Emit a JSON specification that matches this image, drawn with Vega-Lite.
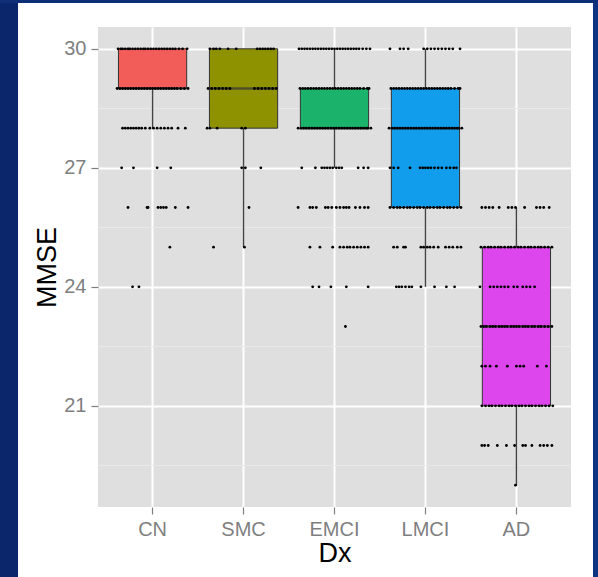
{
  "$schema": "https://vega.github.io/schema/vega-lite/v6.json",
  "background": "#FFFFFF",
  "padding": 0,
  "spacing": 0,
  "config": {
    "view": {"stroke": null},
    "font": "Liberation Sans",
    "axis": {
      "labelFont": "Liberation Sans",
      "titleFont": "Liberation Sans",
      "labelFontSize": 20,
      "labelColor": "#7F7F7F",
      "titleFontSize": 27,
      "titleFontWeight": "normal",
      "titleColor": "#000000",
      "tickColor": "#7F7F7F",
      "tickWidth": 1.2,
      "domain": false,
      "gridColor": "#FFFFFF",
      "gridWidth": 2,
      "gridOpacity": 1
    }
  },
  "datasets": {
    "box": [
      {"dx": "CN", "lower": 28, "q1": 29, "median": 29, "q3": 30, "upper": 30},
      {"dx": "SMC", "lower": 25, "q1": 28, "median": 29, "q3": 30, "upper": 30},
      {"dx": "EMCI", "lower": 27, "q1": 28, "median": 28, "q3": 29, "upper": 30},
      {"dx": "LMCI", "lower": 24, "q1": 26, "median": 28, "q3": 29, "upper": 30},
      {"dx": "AD", "lower": 19, "q1": 21, "median": 23, "q3": 25, "upper": 26}
    ],
    "pts": [
      {"dx":"CN","mmse":30,"j":-0.38},{"dx":"CN","mmse":30,"j":-0.35},{"dx":"CN","mmse":30,"j":-0.33},{"dx":"CN","mmse":30,"j":-0.30},{"dx":"CN","mmse":30,"j":-0.27},{"dx":"CN","mmse":30,"j":-0.25},{"dx":"CN","mmse":30,"j":-0.22},{"dx":"CN","mmse":30,"j":-0.19},{"dx":"CN","mmse":30,"j":-0.16},{"dx":"CN","mmse":30,"j":-0.13},{"dx":"CN","mmse":30,"j":-0.10},{"dx":"CN","mmse":30,"j":-0.08},{"dx":"CN","mmse":30,"j":-0.05},{"dx":"CN","mmse":30,"j":-0.02},{"dx":"CN","mmse":30,"j":0.01},{"dx":"CN","mmse":30,"j":0.04},{"dx":"CN","mmse":30,"j":0.07},{"dx":"CN","mmse":30,"j":0.10},{"dx":"CN","mmse":30,"j":0.13},{"dx":"CN","mmse":30,"j":0.16},{"dx":"CN","mmse":30,"j":0.19},{"dx":"CN","mmse":30,"j":0.22},{"dx":"CN","mmse":30,"j":0.25},{"dx":"CN","mmse":30,"j":0.29},{"dx":"CN","mmse":30,"j":0.33},{"dx":"CN","mmse":30,"j":0.38},
      {"dx":"CN","mmse":29,"j":-0.39},{"dx":"CN","mmse":29,"j":-0.36},{"dx":"CN","mmse":29,"j":-0.33},{"dx":"CN","mmse":29,"j":-0.30},{"dx":"CN","mmse":29,"j":-0.27},{"dx":"CN","mmse":29,"j":-0.24},{"dx":"CN","mmse":29,"j":-0.21},{"dx":"CN","mmse":29,"j":-0.18},{"dx":"CN","mmse":29,"j":-0.15},{"dx":"CN","mmse":29,"j":-0.12},{"dx":"CN","mmse":29,"j":-0.09},{"dx":"CN","mmse":29,"j":-0.06},{"dx":"CN","mmse":29,"j":-0.03},{"dx":"CN","mmse":29,"j":0.00},{"dx":"CN","mmse":29,"j":0.03},{"dx":"CN","mmse":29,"j":0.06},{"dx":"CN","mmse":29,"j":0.09},{"dx":"CN","mmse":29,"j":0.12},{"dx":"CN","mmse":29,"j":0.15},{"dx":"CN","mmse":29,"j":0.18},{"dx":"CN","mmse":29,"j":0.21},{"dx":"CN","mmse":29,"j":0.24},{"dx":"CN","mmse":29,"j":0.27},{"dx":"CN","mmse":29,"j":0.31},{"dx":"CN","mmse":29,"j":0.35},{"dx":"CN","mmse":29,"j":0.39},
      {"dx":"CN","mmse":28,"j":-0.33},{"dx":"CN","mmse":28,"j":-0.30},{"dx":"CN","mmse":28,"j":-0.27},{"dx":"CN","mmse":28,"j":-0.24},{"dx":"CN","mmse":28,"j":-0.21},{"dx":"CN","mmse":28,"j":-0.18},{"dx":"CN","mmse":28,"j":-0.15},{"dx":"CN","mmse":28,"j":-0.12},{"dx":"CN","mmse":28,"j":-0.08},{"dx":"CN","mmse":28,"j":-0.03},{"dx":"CN","mmse":28,"j":0.01},{"dx":"CN","mmse":28,"j":0.05},{"dx":"CN","mmse":28,"j":0.09},{"dx":"CN","mmse":28,"j":0.13},{"dx":"CN","mmse":28,"j":0.17},{"dx":"CN","mmse":28,"j":0.21},{"dx":"CN","mmse":28,"j":0.28},{"dx":"CN","mmse":28,"j":0.36},
      {"dx":"CN","mmse":27,"j":-0.34},{"dx":"CN","mmse":27,"j":-0.21},{"dx":"CN","mmse":27,"j":0.05},{"dx":"CN","mmse":27,"j":0.20},
      {"dx":"CN","mmse":26,"j":-0.27},{"dx":"CN","mmse":26,"j":-0.06},{"dx":"CN","mmse":26,"j":-0.05},{"dx":"CN","mmse":26,"j":0.06},{"dx":"CN","mmse":26,"j":0.09},{"dx":"CN","mmse":26,"j":0.12},{"dx":"CN","mmse":26,"j":0.15},{"dx":"CN","mmse":26,"j":0.25},{"dx":"CN","mmse":26,"j":0.39},
      {"dx":"CN","mmse":25,"j":0.19},
      {"dx":"CN","mmse":24,"j":-0.22},{"dx":"CN","mmse":24,"j":-0.15},
      {"dx":"SMC","mmse":30,"j":-0.37},{"dx":"SMC","mmse":30,"j":-0.33},{"dx":"SMC","mmse":30,"j":-0.30},{"dx":"SMC","mmse":30,"j":-0.26},{"dx":"SMC","mmse":30,"j":-0.17},{"dx":"SMC","mmse":30,"j":-0.08},{"dx":"SMC","mmse":30,"j":0.15},{"dx":"SMC","mmse":30,"j":0.18},{"dx":"SMC","mmse":30,"j":0.21},{"dx":"SMC","mmse":30,"j":0.24},{"dx":"SMC","mmse":30,"j":0.27},{"dx":"SMC","mmse":30,"j":0.30},{"dx":"SMC","mmse":30,"j":0.33},
      {"dx":"SMC","mmse":29,"j":-0.39},{"dx":"SMC","mmse":29,"j":-0.35},{"dx":"SMC","mmse":29,"j":-0.31},{"dx":"SMC","mmse":29,"j":-0.27},{"dx":"SMC","mmse":29,"j":-0.23},{"dx":"SMC","mmse":29,"j":-0.19},{"dx":"SMC","mmse":29,"j":-0.15},{"dx":"SMC","mmse":29,"j":0.12},{"dx":"SMC","mmse":29,"j":0.16},{"dx":"SMC","mmse":29,"j":0.20},{"dx":"SMC","mmse":29,"j":0.24},{"dx":"SMC","mmse":29,"j":0.28},{"dx":"SMC","mmse":29,"j":0.32},{"dx":"SMC","mmse":29,"j":0.36},
      {"dx":"SMC","mmse":28,"j":-0.40},{"dx":"SMC","mmse":28,"j":-0.37},{"dx":"SMC","mmse":28,"j":-0.29},{"dx":"SMC","mmse":28,"j":-0.02},{"dx":"SMC","mmse":28,"j":0.02},
      {"dx":"SMC","mmse":27,"j":-0.02},{"dx":"SMC","mmse":27,"j":0.02},{"dx":"SMC","mmse":27,"j":0.19},
      {"dx":"SMC","mmse":26,"j":0.06},
      {"dx":"SMC","mmse":25,"j":-0.33},{"dx":"SMC","mmse":25,"j":0.01},
      {"dx":"EMCI","mmse":30,"j":-0.39},{"dx":"EMCI","mmse":30,"j":-0.36},{"dx":"EMCI","mmse":30,"j":-0.33},{"dx":"EMCI","mmse":30,"j":-0.30},{"dx":"EMCI","mmse":30,"j":-0.27},{"dx":"EMCI","mmse":30,"j":-0.24},{"dx":"EMCI","mmse":30,"j":-0.21},{"dx":"EMCI","mmse":30,"j":-0.18},{"dx":"EMCI","mmse":30,"j":-0.15},{"dx":"EMCI","mmse":30,"j":-0.12},{"dx":"EMCI","mmse":30,"j":-0.09},{"dx":"EMCI","mmse":30,"j":-0.06},{"dx":"EMCI","mmse":30,"j":-0.03},{"dx":"EMCI","mmse":30,"j":0.00},{"dx":"EMCI","mmse":30,"j":0.03},{"dx":"EMCI","mmse":30,"j":0.06},{"dx":"EMCI","mmse":30,"j":0.09},{"dx":"EMCI","mmse":30,"j":0.12},{"dx":"EMCI","mmse":30,"j":0.15},{"dx":"EMCI","mmse":30,"j":0.18},{"dx":"EMCI","mmse":30,"j":0.21},{"dx":"EMCI","mmse":30,"j":0.24},{"dx":"EMCI","mmse":30,"j":0.27},{"dx":"EMCI","mmse":30,"j":0.31},{"dx":"EMCI","mmse":30,"j":0.35},{"dx":"EMCI","mmse":30,"j":0.39},
      {"dx":"EMCI","mmse":29,"j":-0.38},{"dx":"EMCI","mmse":29,"j":-0.35},{"dx":"EMCI","mmse":29,"j":-0.32},{"dx":"EMCI","mmse":29,"j":-0.29},{"dx":"EMCI","mmse":29,"j":-0.26},{"dx":"EMCI","mmse":29,"j":-0.23},{"dx":"EMCI","mmse":29,"j":-0.20},{"dx":"EMCI","mmse":29,"j":-0.17},{"dx":"EMCI","mmse":29,"j":-0.14},{"dx":"EMCI","mmse":29,"j":-0.11},{"dx":"EMCI","mmse":29,"j":-0.08},{"dx":"EMCI","mmse":29,"j":-0.05},{"dx":"EMCI","mmse":29,"j":-0.02},{"dx":"EMCI","mmse":29,"j":0.01},{"dx":"EMCI","mmse":29,"j":0.04},{"dx":"EMCI","mmse":29,"j":0.07},{"dx":"EMCI","mmse":29,"j":0.10},{"dx":"EMCI","mmse":29,"j":0.13},{"dx":"EMCI","mmse":29,"j":0.16},{"dx":"EMCI","mmse":29,"j":0.19},{"dx":"EMCI","mmse":29,"j":0.22},{"dx":"EMCI","mmse":29,"j":0.25},{"dx":"EMCI","mmse":29,"j":0.28},{"dx":"EMCI","mmse":29,"j":0.32},{"dx":"EMCI","mmse":29,"j":0.36},{"dx":"EMCI","mmse":29,"j":0.38},
      {"dx":"EMCI","mmse":28,"j":-0.40},{"dx":"EMCI","mmse":28,"j":-0.37},{"dx":"EMCI","mmse":28,"j":-0.34},{"dx":"EMCI","mmse":28,"j":-0.31},{"dx":"EMCI","mmse":28,"j":-0.28},{"dx":"EMCI","mmse":28,"j":-0.25},{"dx":"EMCI","mmse":28,"j":-0.22},{"dx":"EMCI","mmse":28,"j":-0.19},{"dx":"EMCI","mmse":28,"j":-0.16},{"dx":"EMCI","mmse":28,"j":-0.13},{"dx":"EMCI","mmse":28,"j":-0.10},{"dx":"EMCI","mmse":28,"j":-0.07},{"dx":"EMCI","mmse":28,"j":-0.04},{"dx":"EMCI","mmse":28,"j":-0.01},{"dx":"EMCI","mmse":28,"j":0.02},{"dx":"EMCI","mmse":28,"j":0.05},{"dx":"EMCI","mmse":28,"j":0.08},{"dx":"EMCI","mmse":28,"j":0.11},{"dx":"EMCI","mmse":28,"j":0.14},{"dx":"EMCI","mmse":28,"j":0.17},{"dx":"EMCI","mmse":28,"j":0.20},{"dx":"EMCI","mmse":28,"j":0.23},{"dx":"EMCI","mmse":28,"j":0.26},{"dx":"EMCI","mmse":28,"j":0.29},{"dx":"EMCI","mmse":28,"j":0.32},{"dx":"EMCI","mmse":28,"j":0.35},{"dx":"EMCI","mmse":28,"j":0.37},{"dx":"EMCI","mmse":28,"j":0.40},
      {"dx":"EMCI","mmse":27,"j":-0.36},{"dx":"EMCI","mmse":27,"j":-0.21},{"dx":"EMCI","mmse":27,"j":-0.14},{"dx":"EMCI","mmse":27,"j":-0.11},{"dx":"EMCI","mmse":27,"j":-0.08},{"dx":"EMCI","mmse":27,"j":-0.05},{"dx":"EMCI","mmse":27,"j":-0.02},{"dx":"EMCI","mmse":27,"j":0.02},{"dx":"EMCI","mmse":27,"j":0.05},{"dx":"EMCI","mmse":27,"j":0.08},{"dx":"EMCI","mmse":27,"j":0.26},{"dx":"EMCI","mmse":27,"j":0.32},{"dx":"EMCI","mmse":27,"j":0.37},
      {"dx":"EMCI","mmse":26,"j":-0.40},{"dx":"EMCI","mmse":26,"j":-0.27},{"dx":"EMCI","mmse":26,"j":-0.24},{"dx":"EMCI","mmse":26,"j":-0.20},{"dx":"EMCI","mmse":26,"j":-0.10},{"dx":"EMCI","mmse":26,"j":-0.07},{"dx":"EMCI","mmse":26,"j":-0.03},{"dx":"EMCI","mmse":26,"j":0.02},{"dx":"EMCI","mmse":26,"j":0.06},{"dx":"EMCI","mmse":26,"j":0.10},{"dx":"EMCI","mmse":26,"j":0.13},{"dx":"EMCI","mmse":26,"j":0.16},{"dx":"EMCI","mmse":26,"j":0.23},{"dx":"EMCI","mmse":26,"j":0.28},{"dx":"EMCI","mmse":26,"j":0.33},{"dx":"EMCI","mmse":26,"j":0.37},
      {"dx":"EMCI","mmse":25,"j":-0.27},{"dx":"EMCI","mmse":25,"j":-0.16},{"dx":"EMCI","mmse":25,"j":-0.02},{"dx":"EMCI","mmse":25,"j":0.06},{"dx":"EMCI","mmse":25,"j":0.10},{"dx":"EMCI","mmse":25,"j":0.14},{"dx":"EMCI","mmse":25,"j":0.17},{"dx":"EMCI","mmse":25,"j":0.21},{"dx":"EMCI","mmse":25,"j":0.25},{"dx":"EMCI","mmse":25,"j":0.29},{"dx":"EMCI","mmse":25,"j":0.33},{"dx":"EMCI","mmse":25,"j":0.37},
      {"dx":"EMCI","mmse":24,"j":-0.24},{"dx":"EMCI","mmse":24,"j":-0.17},{"dx":"EMCI","mmse":24,"j":-0.04},{"dx":"EMCI","mmse":24,"j":0.13},{"dx":"EMCI","mmse":24,"j":0.37},
      {"dx":"EMCI","mmse":23,"j":0.12},
      {"dx":"LMCI","mmse":30,"j":-0.39},{"dx":"LMCI","mmse":30,"j":-0.28},{"dx":"LMCI","mmse":30,"j":-0.24},{"dx":"LMCI","mmse":30,"j":-0.19},{"dx":"LMCI","mmse":30,"j":-0.02},{"dx":"LMCI","mmse":30,"j":0.02},{"dx":"LMCI","mmse":30,"j":0.06},{"dx":"LMCI","mmse":30,"j":0.10},{"dx":"LMCI","mmse":30,"j":0.14},{"dx":"LMCI","mmse":30,"j":0.18},{"dx":"LMCI","mmse":30,"j":0.22},{"dx":"LMCI","mmse":30,"j":0.26},{"dx":"LMCI","mmse":30,"j":0.30},{"dx":"LMCI","mmse":30,"j":0.38},
      {"dx":"LMCI","mmse":29,"j":-0.38},{"dx":"LMCI","mmse":29,"j":-0.35},{"dx":"LMCI","mmse":29,"j":-0.32},{"dx":"LMCI","mmse":29,"j":-0.29},{"dx":"LMCI","mmse":29,"j":-0.26},{"dx":"LMCI","mmse":29,"j":-0.23},{"dx":"LMCI","mmse":29,"j":-0.20},{"dx":"LMCI","mmse":29,"j":-0.17},{"dx":"LMCI","mmse":29,"j":-0.14},{"dx":"LMCI","mmse":29,"j":-0.11},{"dx":"LMCI","mmse":29,"j":-0.08},{"dx":"LMCI","mmse":29,"j":-0.05},{"dx":"LMCI","mmse":29,"j":-0.02},{"dx":"LMCI","mmse":29,"j":0.01},{"dx":"LMCI","mmse":29,"j":0.04},{"dx":"LMCI","mmse":29,"j":0.07},{"dx":"LMCI","mmse":29,"j":0.10},{"dx":"LMCI","mmse":29,"j":0.13},{"dx":"LMCI","mmse":29,"j":0.16},{"dx":"LMCI","mmse":29,"j":0.19},{"dx":"LMCI","mmse":29,"j":0.22},{"dx":"LMCI","mmse":29,"j":0.25},{"dx":"LMCI","mmse":29,"j":0.28},{"dx":"LMCI","mmse":29,"j":0.32},{"dx":"LMCI","mmse":29,"j":0.36},{"dx":"LMCI","mmse":29,"j":0.38},
      {"dx":"LMCI","mmse":28,"j":-0.40},{"dx":"LMCI","mmse":28,"j":-0.37},{"dx":"LMCI","mmse":28,"j":-0.34},{"dx":"LMCI","mmse":28,"j":-0.31},{"dx":"LMCI","mmse":28,"j":-0.28},{"dx":"LMCI","mmse":28,"j":-0.25},{"dx":"LMCI","mmse":28,"j":-0.22},{"dx":"LMCI","mmse":28,"j":-0.19},{"dx":"LMCI","mmse":28,"j":-0.16},{"dx":"LMCI","mmse":28,"j":-0.13},{"dx":"LMCI","mmse":28,"j":-0.10},{"dx":"LMCI","mmse":28,"j":-0.07},{"dx":"LMCI","mmse":28,"j":-0.04},{"dx":"LMCI","mmse":28,"j":-0.01},{"dx":"LMCI","mmse":28,"j":0.02},{"dx":"LMCI","mmse":28,"j":0.05},{"dx":"LMCI","mmse":28,"j":0.08},{"dx":"LMCI","mmse":28,"j":0.11},{"dx":"LMCI","mmse":28,"j":0.14},{"dx":"LMCI","mmse":28,"j":0.17},{"dx":"LMCI","mmse":28,"j":0.20},{"dx":"LMCI","mmse":28,"j":0.23},{"dx":"LMCI","mmse":28,"j":0.26},{"dx":"LMCI","mmse":28,"j":0.29},{"dx":"LMCI","mmse":28,"j":0.32},{"dx":"LMCI","mmse":28,"j":0.35},{"dx":"LMCI","mmse":28,"j":0.37},{"dx":"LMCI","mmse":28,"j":0.40},
      {"dx":"LMCI","mmse":27,"j":-0.39},{"dx":"LMCI","mmse":27,"j":-0.35},{"dx":"LMCI","mmse":27,"j":-0.30},{"dx":"LMCI","mmse":27,"j":-0.17},{"dx":"LMCI","mmse":27,"j":-0.06},{"dx":"LMCI","mmse":27,"j":-0.03},{"dx":"LMCI","mmse":27,"j":0.00},{"dx":"LMCI","mmse":27,"j":0.03},{"dx":"LMCI","mmse":27,"j":0.06},{"dx":"LMCI","mmse":27,"j":0.10},{"dx":"LMCI","mmse":27,"j":0.14},{"dx":"LMCI","mmse":27,"j":0.18},{"dx":"LMCI","mmse":27,"j":0.23},{"dx":"LMCI","mmse":27,"j":0.27},{"dx":"LMCI","mmse":27,"j":0.31},{"dx":"LMCI","mmse":27,"j":0.34},
      {"dx":"LMCI","mmse":26,"j":-0.39},{"dx":"LMCI","mmse":26,"j":-0.35},{"dx":"LMCI","mmse":26,"j":-0.31},{"dx":"LMCI","mmse":26,"j":-0.28},{"dx":"LMCI","mmse":26,"j":-0.24},{"dx":"LMCI","mmse":26,"j":-0.20},{"dx":"LMCI","mmse":26,"j":-0.17},{"dx":"LMCI","mmse":26,"j":-0.13},{"dx":"LMCI","mmse":26,"j":-0.09},{"dx":"LMCI","mmse":26,"j":-0.06},{"dx":"LMCI","mmse":26,"j":-0.02},{"dx":"LMCI","mmse":26,"j":0.02},{"dx":"LMCI","mmse":26,"j":0.05},{"dx":"LMCI","mmse":26,"j":0.09},{"dx":"LMCI","mmse":26,"j":0.13},{"dx":"LMCI","mmse":26,"j":0.16},{"dx":"LMCI","mmse":26,"j":0.20},{"dx":"LMCI","mmse":26,"j":0.24},{"dx":"LMCI","mmse":26,"j":0.27},{"dx":"LMCI","mmse":26,"j":0.31},{"dx":"LMCI","mmse":26,"j":0.35},{"dx":"LMCI","mmse":26,"j":0.39},
      {"dx":"LMCI","mmse":25,"j":-0.35},{"dx":"LMCI","mmse":25,"j":-0.31},{"dx":"LMCI","mmse":25,"j":-0.24},{"dx":"LMCI","mmse":25,"j":-0.22},{"dx":"LMCI","mmse":25,"j":-0.05},{"dx":"LMCI","mmse":25,"j":-0.02},{"dx":"LMCI","mmse":25,"j":0.02},{"dx":"LMCI","mmse":25,"j":0.05},{"dx":"LMCI","mmse":25,"j":0.09},{"dx":"LMCI","mmse":25,"j":0.14},{"dx":"LMCI","mmse":25,"j":0.22},{"dx":"LMCI","mmse":25,"j":0.26},{"dx":"LMCI","mmse":25,"j":0.30},{"dx":"LMCI","mmse":25,"j":0.35},{"dx":"LMCI","mmse":25,"j":0.39},
      {"dx":"LMCI","mmse":24,"j":-0.32},{"dx":"LMCI","mmse":24,"j":-0.29},{"dx":"LMCI","mmse":24,"j":-0.26},{"dx":"LMCI","mmse":24,"j":-0.22},{"dx":"LMCI","mmse":24,"j":-0.18},{"dx":"LMCI","mmse":24,"j":-0.15},{"dx":"LMCI","mmse":24,"j":-0.05},{"dx":"LMCI","mmse":24,"j":0.10},{"dx":"LMCI","mmse":24,"j":0.23},{"dx":"LMCI","mmse":24,"j":0.32},
      {"dx":"AD","mmse":26,"j":-0.38},{"dx":"AD","mmse":26,"j":-0.34},{"dx":"AD","mmse":26,"j":-0.30},{"dx":"AD","mmse":26,"j":-0.26},{"dx":"AD","mmse":26,"j":-0.19},{"dx":"AD","mmse":26,"j":-0.09},{"dx":"AD","mmse":26,"j":-0.05},{"dx":"AD","mmse":26,"j":-0.01},{"dx":"AD","mmse":26,"j":0.09},{"dx":"AD","mmse":26,"j":0.22},{"dx":"AD","mmse":26,"j":0.26},{"dx":"AD","mmse":26,"j":0.30},{"dx":"AD","mmse":26,"j":0.36},
      {"dx":"AD","mmse":25,"j":-0.39},{"dx":"AD","mmse":25,"j":-0.35},{"dx":"AD","mmse":25,"j":-0.31},{"dx":"AD","mmse":25,"j":-0.28},{"dx":"AD","mmse":25,"j":-0.24},{"dx":"AD","mmse":25,"j":-0.20},{"dx":"AD","mmse":25,"j":-0.17},{"dx":"AD","mmse":25,"j":-0.13},{"dx":"AD","mmse":25,"j":-0.09},{"dx":"AD","mmse":25,"j":-0.06},{"dx":"AD","mmse":25,"j":-0.02},{"dx":"AD","mmse":25,"j":0.02},{"dx":"AD","mmse":25,"j":0.05},{"dx":"AD","mmse":25,"j":0.09},{"dx":"AD","mmse":25,"j":0.13},{"dx":"AD","mmse":25,"j":0.16},{"dx":"AD","mmse":25,"j":0.20},{"dx":"AD","mmse":25,"j":0.24},{"dx":"AD","mmse":25,"j":0.27},{"dx":"AD","mmse":25,"j":0.31},{"dx":"AD","mmse":25,"j":0.35},{"dx":"AD","mmse":25,"j":0.39},
      {"dx":"AD","mmse":24,"j":-0.40},{"dx":"AD","mmse":24,"j":-0.29},{"dx":"AD","mmse":24,"j":-0.25},{"dx":"AD","mmse":24,"j":-0.21},{"dx":"AD","mmse":24,"j":-0.17},{"dx":"AD","mmse":24,"j":-0.13},{"dx":"AD","mmse":24,"j":-0.09},{"dx":"AD","mmse":24,"j":-0.03},{"dx":"AD","mmse":24,"j":0.01},{"dx":"AD","mmse":24,"j":0.07},{"dx":"AD","mmse":24,"j":0.11},{"dx":"AD","mmse":24,"j":0.15},{"dx":"AD","mmse":24,"j":0.20},
      {"dx":"AD","mmse":23,"j":-0.39},{"dx":"AD","mmse":23,"j":-0.36},{"dx":"AD","mmse":23,"j":-0.33},{"dx":"AD","mmse":23,"j":-0.29},{"dx":"AD","mmse":23,"j":-0.26},{"dx":"AD","mmse":23,"j":-0.23},{"dx":"AD","mmse":23,"j":-0.19},{"dx":"AD","mmse":23,"j":-0.16},{"dx":"AD","mmse":23,"j":-0.13},{"dx":"AD","mmse":23,"j":-0.10},{"dx":"AD","mmse":23,"j":-0.06},{"dx":"AD","mmse":23,"j":-0.03},{"dx":"AD","mmse":23,"j":0.00},{"dx":"AD","mmse":23,"j":0.03},{"dx":"AD","mmse":23,"j":0.07},{"dx":"AD","mmse":23,"j":0.10},{"dx":"AD","mmse":23,"j":0.13},{"dx":"AD","mmse":23,"j":0.17},{"dx":"AD","mmse":23,"j":0.20},{"dx":"AD","mmse":23,"j":0.24},{"dx":"AD","mmse":23,"j":0.27},{"dx":"AD","mmse":23,"j":0.31},{"dx":"AD","mmse":23,"j":0.35},{"dx":"AD","mmse":23,"j":0.39},
      {"dx":"AD","mmse":22,"j":-0.38},{"dx":"AD","mmse":22,"j":-0.34},{"dx":"AD","mmse":22,"j":-0.29},{"dx":"AD","mmse":22,"j":-0.22},{"dx":"AD","mmse":22,"j":-0.10},{"dx":"AD","mmse":22,"j":0.00},{"dx":"AD","mmse":22,"j":0.04},{"dx":"AD","mmse":22,"j":0.08},{"dx":"AD","mmse":22,"j":0.23},{"dx":"AD","mmse":22,"j":0.33},
      {"dx":"AD","mmse":21,"j":-0.38},{"dx":"AD","mmse":21,"j":-0.34},{"dx":"AD","mmse":21,"j":-0.30},{"dx":"AD","mmse":21,"j":-0.27},{"dx":"AD","mmse":21,"j":-0.23},{"dx":"AD","mmse":21,"j":-0.19},{"dx":"AD","mmse":21,"j":-0.16},{"dx":"AD","mmse":21,"j":-0.12},{"dx":"AD","mmse":21,"j":-0.08},{"dx":"AD","mmse":21,"j":-0.05},{"dx":"AD","mmse":21,"j":-0.01},{"dx":"AD","mmse":21,"j":0.03},{"dx":"AD","mmse":21,"j":0.06},{"dx":"AD","mmse":21,"j":0.10},{"dx":"AD","mmse":21,"j":0.14},{"dx":"AD","mmse":21,"j":0.17},{"dx":"AD","mmse":21,"j":0.21},{"dx":"AD","mmse":21,"j":0.25},{"dx":"AD","mmse":21,"j":0.28},{"dx":"AD","mmse":21,"j":0.32},{"dx":"AD","mmse":21,"j":0.36},{"dx":"AD","mmse":21,"j":0.40},
      {"dx":"AD","mmse":20,"j":-0.38},{"dx":"AD","mmse":20,"j":-0.35},{"dx":"AD","mmse":20,"j":-0.31},{"dx":"AD","mmse":20,"j":-0.21},{"dx":"AD","mmse":20,"j":-0.11},{"dx":"AD","mmse":20,"j":-0.02},{"dx":"AD","mmse":20,"j":0.07},{"dx":"AD","mmse":20,"j":0.10},{"dx":"AD","mmse":20,"j":0.17},{"dx":"AD","mmse":20,"j":0.26},{"dx":"AD","mmse":20,"j":0.30},{"dx":"AD","mmse":20,"j":0.34},{"dx":"AD","mmse":20,"j":0.39},
      {"dx":"AD","mmse":19,"j":-0.01}
    ]
  },
  "vconcat": [
    {
      "width": 598,
      "height": 3,
      "view": {"fill": "#0E2E78", "stroke": null},
      "data": {"values": []},
      "mark": "point",
      "encoding": {}
    },
    {
      "spacing": 15,
      "hconcat": [
        {
          "width": 18,
          "height": 574,
          "view": {"fill": "#0B266A", "stroke": null},
          "data": {"values": []},
          "mark": "point",
          "encoding": {}
        },
        {
          "spacing": 23,
          "vconcat": [
            {
              "width": 480,
              "height": 1,
              "data": {"values": []},
              "mark": "point",
              "encoding": {}
            },
            {
              "width": 473,
              "height": 480,
              "view": {"fill": "#DFDFDF", "stroke": null},
              "layer": [
                {
                  "data": {"name": "box"},
                  "encoding": {
                    "x": {
                      "field": "dx",
                      "type": "nominal",
                      "title": "Dx",
                      "scale": {"domain": ["CN", "SMC", "EMCI", "LMCI", "AD"], "paddingInner": 0, "paddingOuter": 0.1},
                      "axis": {"labelAngle": 0, "tickSize": 7, "labelPadding": 5, "titlePadding": 1, "bandPosition": 0.5, "grid": true}
                    }
                  },
                  "layer": [
                    {
                      "mark": {"type": "rule", "color": "#444444", "strokeWidth": 1.5},
                      "encoding": {
                        "y": {
                          "field": "lower",
                          "type": "quantitative",
                          "title": "MMSE",
                          "scale": {"domain": [18.45, 30.55], "zero": false, "nice": false},
                          "axis": {
                            "values": [19.5, 21, 22.5, 24, 25.5, 27, 28.5, 30],
                            "labelExpr": "datum.value % 3 === 0 ? datum.label : ''",
                            "tickSize": 7,
                            "labelPadding": 5,
                            "titlePadding": 2,
                            "tickColor": {"condition": {"test": "datum.value % 3 === 0", "value": "#7F7F7F"}, "value": "transparent"},
                            "gridColor": {"condition": {"test": "datum.value % 3 === 0", "value": "#FFFFFF"}, "value": "#E9E9E9"},
                            "gridWidth": {"condition": {"test": "datum.value % 3 === 0", "value": 2}, "value": 1}
                          }
                        },
                        "y2": {"field": "upper"}
                      }
                    },
                    {
                      "mark": {"type": "bar", "width": {"band": 0.75}, "stroke": "#333333", "strokeWidth": 1},
                      "encoding": {
                        "y": {"field": "q1", "type": "quantitative", "title": "MMSE"},
                        "y2": {"field": "q3"},
                        "color": {
                          "field": "dx",
                          "type": "nominal",
                          "scale": {"domain": ["CN", "SMC", "EMCI", "LMCI", "AD"], "range": ["#F25D5A", "#8E9200", "#1BB26B", "#119DEB", "#DD46EC"]},
                          "legend": null
                        }
                      }
                    },
                    {
                      "mark": {"type": "tick", "color": "#333333", "thickness": 2.5, "size": 68},
                      "encoding": {
                        "y": {"field": "median", "type": "quantitative", "title": "MMSE"}
                      }
                    }
                  ]
                },
                {
                  "data": {"name": "pts"},
                  "mark": {"type": "circle", "size": 8, "color": "#000000", "opacity": 1},
                  "encoding": {
                    "x": {
                      "field": "dx",
                      "type": "nominal",
                      "scale": {"domain": ["CN", "SMC", "EMCI", "LMCI", "AD"], "paddingInner": 0, "paddingOuter": 0.1},
                      "axis": null
                    },
                    "y": {"field": "mmse", "type": "quantitative", "title": "MMSE"},
                    "xOffset": {"field": "j", "type": "quantitative", "scale": {"domain": [-0.5, 0.5]}}
                  }
                }
              ],
              "resolve": {"scale": {"x": "independent", "xOffset": "independent"}, "axis": {"x": "independent"}}
            }
          ]
        },
        {
          "width": 5,
          "height": 574,
          "view": {"fill": "#0E3380", "stroke": null},
          "data": {"values": []},
          "mark": "point",
          "encoding": {}
        }
      ]
    }
  ]
}
